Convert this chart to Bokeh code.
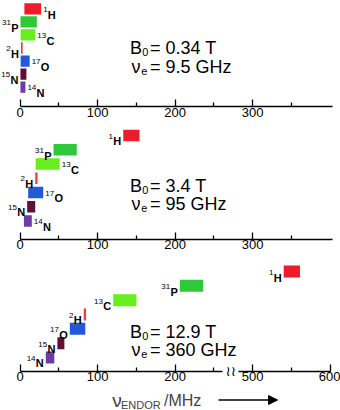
from bokeh.plotting import figure
from bokeh.models import (Range1d, LinearAxis, FixedTicker, Label, Arrow,
                          NormalHead)
from bokeh.core.properties import value
from bokeh.embed import file_html
from bokeh.resources import INLINE

# ---------------- data ----------------
nuc_mass = ["1", "31", "13", "2", "17", "15", "14"]
nuc_elem = ["H", "P", "C", "H", "O", "N", "N"]
nuc_color = ["#ee1c2b", "#2ec83a", "#66ee1e", "#ee3a4a", "#2358d8", "#5e1038", "#6c3ca0"]

# ENDOR frequency ranges (MHz), low / high edge of each bar
lo_x = [5.4, 0.4, 0.6, 1.0, 0.6, 0.3, 0.3]          # B0 = 0.34 T
hi_x = [27.0, 21.5, 19.5, 3.2, 12.2, 8.0, 6.7]
lo_w = [133, 43, 20, 19.4, 10.3, 9.0, 4.8]          # B0 = 3.4 T
hi_w = [154, 73, 51, 22.4, 29.7, 19.4, 15.0]
lo_hf = [540, 206, 120, 82, 64, 48, 33]              # B0 = 12.9 T
hi_hf = [561, 236, 150, 85, 84, 57, 44]

field_T = ["0.34", "3.4", "12.9"]
freq_GHz = ["9.5", "95", "360"]

ticks_full = [0, 100, 200, 300]
minor_full = [50, 150, 250, 350]
ticks_low = [0, 100, 200]
minor_low = [50, 150, 250]
ticks_high = [500, 600]
minor_high = [550]

# ---------------- layout / style ----------------
W, H = 340, 410
X0_PX = 19.7          # page x of 0 MHz
PX_PER = 0.775        # px per MHz
SHIFT = 200           # broken axis: 500 MHz sits where 300 would
FONT = "Liberation Sans"


def px(xpage):
    return (xpage - X0_PX) / PX_PER


x_start = px(0)
x_end = x_start + W / PX_PER

p = figure(width=W, height=H, x_range=Range1d(x_start, x_end),
           y_range=Range1d(H, 0), x_axis_type=None, y_axis_type=None,
           output_backend="svg", toolbar_location=None, min_border=0,
           outline_line_color=None, background_fill_color="white",
           border_fill_color="white")
p.extra_x_ranges = {"hi": Range1d(x_start + SHIFT, x_end + SHIFT)}

panels = [
    dict(lo=lo_x, hi=hi_x, top=2.7, step=13.05, h=11.3, sides="RLRLRLR",
         axis_y=106, b1=47.7, b2=66.0),
    dict(lo=lo_w, hi=hi_w, top=129.3, step=14.23, h=11.5, sides="LLRLRLR",
         axis_y=238.5, b1=185.0, b2=203.3),
    dict(lo=lo_hf, hi=hi_hf, top=265.0, step=14.33, h=12.0, sides="LLLLLLL",
         axis_y=370.8, b1=331.7, b2=349.3),
]

EL_FS = 11
SUP_FS = 8
GAP = 2.0
RAISE = 5.0
EL_W = {"H": 0.722, "P": 0.667, "C": 0.722, "O": 0.778, "N": 0.722}

for pi, pn in enumerate(panels):
    for rng in ("default", "hi"):
        L, R, T, B, C = [], [], [], [], []
        ex, ext, exo, ea = [], [], [], []
        sx, st, sxo, sa, sy, ey = [], [], [], [], [], []
        for i in range(len(nuc_mass)):
            lo, hi = pn["lo"][i], pn["hi"][i]
            on_hi = lo >= 300
            if (rng == "hi") != on_hi:
                continue
            top = pn["top"] + i * pn["step"]
            bot = top + pn["h"]
            L.append(lo); R.append(hi); T.append(top); B.append(bot); C.append(nuc_color[i])
            sup_w = len(nuc_mass[i]) * 0.556 * SUP_FS
            el_w = EL_W[nuc_elem[i]] * EL_FS
            if pn["sides"][i] == "R":
                sx.append(hi); sxo.append(GAP); sa.append("left")
                ex.append(hi); exo.append(GAP + sup_w + 0.3); ea.append("left")
            else:
                ex.append(lo); exo.append(-GAP); ea.append("right")
                sx.append(lo); sxo.append(-GAP - el_w - 0.3); sa.append("right")
            st.append(nuc_mass[i]); ext.append(nuc_elem[i])
            sy.append(bot); ey.append(bot)
        if not L:
            continue
        kw = {} if rng == "default" else {"x_range_name": "hi"}
        p.quad(left=L, right=R, top=T, bottom=B, fill_color=C, line_color=None, **kw)
        p.text(x=ex, y=ey, text=ext, x_offset=exo, text_align=ea,
               text_font=value(FONT), text_font_style="bold",
               text_font_size=f"{EL_FS}px", text_baseline="alphabetic",
               text_color="black", **kw)
        p.text(x=sx, y=sy, text=st, x_offset=sxo, y_offset=-RAISE, text_align=sa,
               text_font=value(FONT), text_font_size=f"{SUP_FS}px",
               text_baseline="alphabetic", text_color="black", **kw)

    # field / frequency annotation
    def lab(x, y, t, fs):
        p.add_layout(Label(x=px(x), y=y, text=t, text_font=FONT,
                           text_font_size=f"{fs}px", text_baseline="alphabetic",
                           text_align="left", text_color="black"))
    lab(129.5, pn["b1"], "B", 18)
    lab(141.8, pn["b1"] + 4, "0", 11)
    lab(149.5, pn["b1"], f"= {field_T[pi]} T", 18)
    lab(131.0, pn["b2"], "\u03bd", 18)
    lab(140.8, pn["b2"] + 4, "e", 11)
    lab(149.5, pn["b2"], f"= {freq_GHz[pi]} GHz", 18)


def style_axis(ax):
    ax.axis_line_width = 1.5
    ax.axis_line_color = "black"
    ax.major_tick_in = 7
    ax.major_tick_out = 0
    ax.minor_tick_in = 4
    ax.minor_tick_out = 0
    ax.major_tick_line_width = 1.3
    ax.minor_tick_line_width = 1.3
    ax.major_label_text_font = FONT
    ax.major_label_text_font_size = "13px"
    ax.major_label_text_color = "black"
    ax.major_label_standoff = 1
    return ax


for pn in panels[:2]:
    ax = LinearAxis(fixed_location=pn["axis_y"], bounds=(0, px(332)),
                    ticker=FixedTicker(ticks=ticks_full, minor_ticks=minor_full))
    p.add_layout(style_axis(ax), "below")

ax3a = LinearAxis(fixed_location=panels[2]["axis_y"], bounds=(0, px(221.7)),
                  ticker=FixedTicker(ticks=ticks_low, minor_ticks=minor_low))
p.add_layout(style_axis(ax3a), "below")
ax3b = LinearAxis(x_range_name="hi", fixed_location=panels[2]["axis_y"],
                  bounds=(px(237.7) + SHIFT, 600),
                  ticker=FixedTicker(ticks=ticks_high, minor_ticks=minor_high))
p.add_layout(style_axis(ax3b), "below")

# axis break mark
p.add_layout(Label(x=px(230.3), y=panels[2]["axis_y"] - 0.5, text="\u2240\u2240",
                   text_font="DejaVu Sans", text_font_size="14px",
                   text_align="center", text_baseline="middle", text_color="black"))

# axis title
p.add_layout(Label(x=px(111.7), y=400.0, text="\u03bd", text_font=FONT,
                   text_font_size="19px", text_baseline="alphabetic"))
p.add_layout(Label(x=px(120.5), y=404.5, text="ENDOR", text_font=FONT,
                   text_font_size="11px", text_baseline="alphabetic"))
p.add_layout(Label(x=px(163.5), y=400.0, text="/MHz", text_font=FONT,
                   text_font_size="16px", text_baseline="alphabetic"))
p.add_layout(Arrow(x_start=px(218), y_start=399.5, x_end=px(277), y_end=399.5,
                   line_width=1.5, line_color="black",
                   end=NormalHead(size=9, fill_color="black", line_color="black")))

open("out.html", "w").write(file_html(p, INLINE))
